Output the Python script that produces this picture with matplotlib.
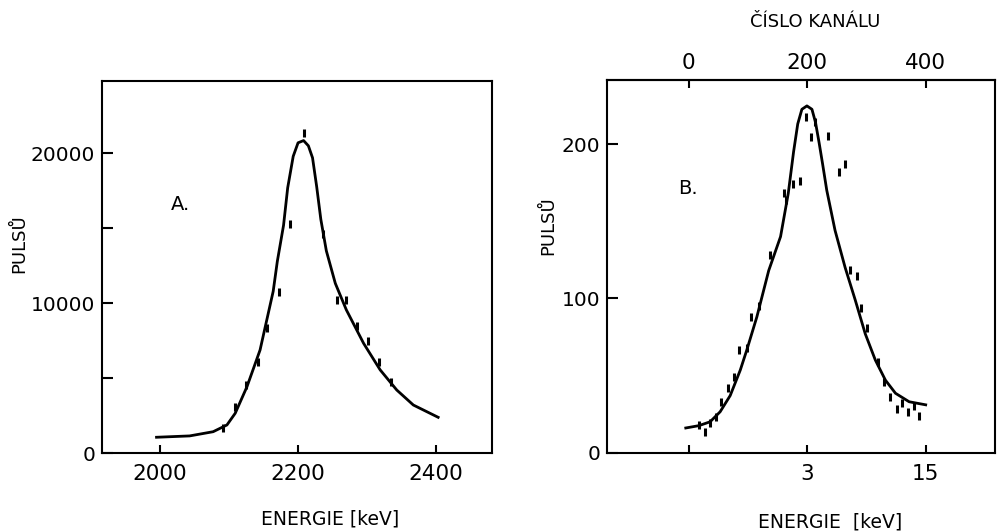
import matplotlib
matplotlib.use("Agg")
import matplotlib.pyplot as plt

# --- panel A: energy spectrum around 2200 keV ---
energy_a = [1995, 2043, 2077, 2097, 2109, 2126, 2145, 2164, 2170, 2179, 2185,
            2193, 2200, 2208, 2215, 2221, 2227, 2233, 2241, 2254, 2270, 2295,
            2319, 2343, 2367, 2403]
fit_a = [1070, 1160, 1440, 1890, 2670, 4440, 6890, 10800, 12800, 15200, 17700,
         19800, 20700, 20850, 20500, 19700, 17780, 15600, 13500, 11330, 9560,
         7330, 5560, 4220, 3220, 2400]
pts_energy_a = [2091, 2108, 2125, 2142, 2155, 2172, 2189, 2208, 2236, 2257,
                2270, 2286, 2302, 2318, 2335]
pts_counts_a = [1670, 3070, 4560, 6110, 8330, 10780, 15290, 21370, 14600,
                10220, 10220, 8490, 7510, 6110, 4780]

# --- panel B: channel spectrum ---
chan_b = [-5, 17, 36, 53, 70, 87, 98, 115, 135, 155, 168, 177, 184, 191, 199.5,
          208, 214, 220, 226, 233, 247, 264, 281, 298, 315, 332, 349, 372, 400]
fit_b = [16, 17.5, 20, 26.5, 37, 53.5, 66.5, 88, 118, 140, 168, 195, 213, 222.5,
         224.7, 222.5, 214, 201, 187, 170, 144, 120, 99, 77, 60, 47, 38.5, 33, 31]
pts_chan_b = [18, 28, 36, 46, 55, 65.5, 75.6, 85, 98, 105, 119, 137.5, 160, 165,
              176, 188, 197.8, 206.8, 213.5, 235, 254, 264, 272.6, 284, 291,
              300.8, 319, 330, 340, 351.4, 360, 370, 379.5, 388]
pts_counts_b = [18, 13.6, 19, 23.3, 33, 41.7, 49, 66.5, 67.6, 88, 95, 128, 168,
                164, 174, 176, 217.7, 204.8, 214.5, 205.2, 182, 187, 118.3, 114.5,
                94, 80.6, 59, 46, 36, 28, 32, 26.6, 30.3, 23.8]

ticks_a = [2000, 2200, 2400]
yticks_a = [0, 5000, 10000, 15000, 20000]
ylabels_a = ["0", "", "10000", "", "20000"]
chan_ticks = [0, 200, 400]
energy_labels_b = ["", "3", "15"]
chan_labels_b = ["0", "200", "400"]
yticks_b = [0, 100, 200]

fig = plt.figure(figsize=(9.98, 5.31), dpi=100)
axA = fig.add_axes([0.1022, 0.1463, 0.3908, 0.7017])
axB = fig.add_axes([0.6082, 0.1475, 0.3888, 0.7019])

for ax in (axA, axB):
    for sp in ax.spines.values():
        sp.set_linewidth(1.5)
    ax.tick_params(axis="both", direction="in", width=1.5, colors="black")
    ax.tick_params(axis="y", length=8, pad=5, labelsize=14.5)
    ax.tick_params(axis="x", length=6, pad=8, labelsize=15.5)

# panel A
axA.plot(energy_a, fit_a, color="black", lw=2)
axA.plot(pts_energy_a, pts_counts_a, ls="none", marker="|", ms=6, mew=2.2,
         color="black")
axA.set_xlim(1916, 2481)
axA.set_ylim(0, 24840)
axA.set_xticks(ticks_a, [str(t) for t in ticks_a])
axA.set_yticks(yticks_a, ylabels_a)
axA.set_xlabel("ENERGIE [keV]", fontsize=13.5, va="center")
axA.xaxis.set_label_coords(0.585, -0.176)
axA.set_ylabel("PULSŮ", fontsize=13, va="center")
axA.yaxis.set_label_coords(-0.213, 0.564)
axA.text(0.2, 0.669, "A.", transform=axA.transAxes, fontsize=14,
         ha="center", va="center")

# panel B
axB.plot(chan_b, fit_b, color="black", lw=2)
axB.plot(pts_chan_b, pts_counts_b, ls="none", marker="|", ms=6, mew=2.2,
         color="black")
axB.set_xlim(-138, 517)
axB.set_ylim(0, 241.5)
axB.set_xticks(chan_ticks, energy_labels_b)
axB.set_yticks(yticks_b, [str(t) for t in yticks_b])
axB.set_xlabel("ENERGIE  [keV]", fontsize=13.5, va="center")
axB.xaxis.set_label_coords(0.575, -0.186)
axB.set_ylabel("PULSŮ", fontsize=13, va="center")
axB.yaxis.set_label_coords(-0.152, 0.608)
axB.text(0.209, 0.71, "B.", transform=axB.transAxes, fontsize=14,
         ha="center", va="center")

top = axB.secondary_xaxis("top")
top.set_xticks(chan_ticks, chan_labels_b)
top.tick_params(axis="x", direction="in", length=6, width=1.5, pad=5,
                labelsize=15.5)
top.spines["top"].set_linewidth(1.5)
top.set_xlabel("ČÍSLO KANÁLU", fontsize=13, va="center")
top.xaxis.set_label_coords(0.536, 1.156, transform=axB.transAxes)

fig.savefig("out.png", dpi=100)
